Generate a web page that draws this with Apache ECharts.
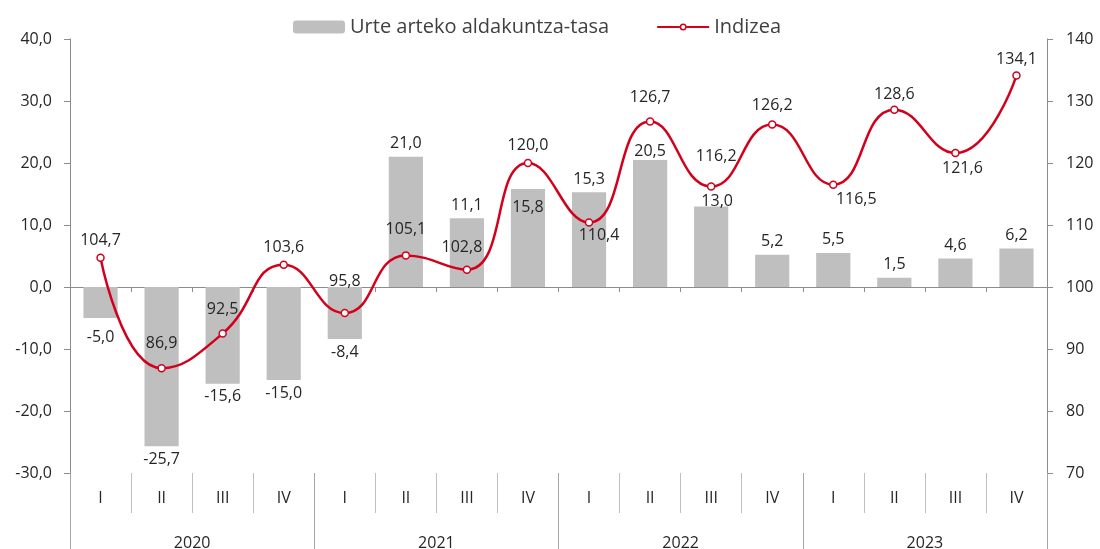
<!DOCTYPE html>
<html>
<head>
<meta charset="utf-8">
<script src="https://cdn.jsdelivr.net/npm/echarts@6/dist/echarts.min.js"></script>
<style>
  html, body { margin: 0; padding: 0; background: #fff; }
  #main { width: 1100px; height: 549px; }
</style>
</head>
<body>
<div id="main"></div>
<script>
// datuak
const quarters = ['I', 'II', 'III', 'IV', 'I', 'II', 'III', 'IV', 'I', 'II', 'III', 'IV', 'I', 'II', 'III', 'IV']
const years = ['2020', '2021', '2022', '2023']
const tasa = [-5.0, -25.7, -15.6, -15.0, -8.4, 21.0, 11.1, 15.8, 15.3, 20.5, 13.0, 5.2, 5.5, 1.5, 4.6, 6.2]
const indizea = [104.7, 86.9, 92.5, 103.6, 95.8, 105.1, 102.8, 120.0, 110.4, 126.7, 116.2, 126.2, 116.5, 128.6, 121.6, 134.1]

const fontFamily = '"Open Sans", "Noto Sans", sans-serif'
const textColor = '#262626'
const red = '#d3001c'

function comma (v, d) {
  return v.toFixed(d).replace('.', ',')
}

// etiketen kokapen bereziak (jatorrizko grafikoan eskuz mugituak)
const barLabelTweak = {
  0: { distance: 11 },
  7: { position: 'insideTop', distance: 10 },
  9: { distance: 0 },
  10: { distance: -3, offset: [6, 0] }
}
const lineLabelTweak = {
  1: { distance: 13 },
  2: { distance: 12 },
  4: { distance: 19 },
  5: { distance: 14 },
  6: { distance: 10, offset: [-5, 0] },
  8: { position: 'bottom', distance: 1, offset: [10, 0] },
  9: { distance: 12 },
  10: { distance: 18, offset: [5, 0] },
  11: { distance: 7 },
  12: { position: 'bottom', distance: 2, offset: [23, 0] },
  13: { distance: 3 },
  14: { position: 'bottom', distance: 3, offset: [7, 0] },
  15: { distance: 4 }
}

const barData = tasa.map(function (v, i) {
  const label = Object.assign({ position: v < 0 ? 'bottom' : 'top' }, barLabelTweak[i] || {})
  return { value: v, label: label }
})
const lineData = indizea.map(function (v, i) {
  return { value: v, label: Object.assign({ position: 'top' }, lineLabelTweak[i] || {}) }
})

// legendako lerroa + zirkulu txikia (52x13)
const lineIcon = 'path://M0,0 L0.01,0 M52,13 L51.99,13 ' +
  'M0,5.5 H22.5 V7.5 H0 Z M29.5,5.5 H52 V7.5 H29.5 Z ' +
  'M26,3 A3.5,3.5 0 1,1 25.99,3 Z M26,4.5 A2,2 0 1,0 26.01,4.5 Z'

var myChart = echarts.init(document.getElementById('main'))

var option = {
  animation: false,
  textStyle: { fontFamily: fontFamily, color: textColor },
  legend: {
    left: 293,
    top: 17,
    padding: 0,
    itemWidth: 52,
    itemHeight: 13,
    itemGap: 48,
    textStyle: { fontSize: 20, color: '#404040', fontFamily: fontFamily },
    data: [
      { name: 'Urte arteko aldakuntza-tasa' },
      { name: 'Indizea', icon: lineIcon, itemStyle: { color: red, borderWidth: 0 } }
    ]
  },
  grid: {
    left: 70,
    right: 53,
    top: 39,
    bottom: 76,
    outerBoundsMode: 'none'
  },
  xAxis: [
    {
      type: 'category',
      data: quarters,
      axisLine: { onZero: true, onZeroAxisIndex: 0, lineStyle: { color: '#8c8c8c', width: 1 } },
      axisTick: { show: true, length: 5, lineStyle: { color: '#8c8c8c' } },
      axisLabel: { show: false },
      splitLine: { show: false }
    },
    {
      type: 'category',
      data: quarters,
      position: 'bottom',
      axisLine: { show: false, onZero: false },
      axisTick: { show: true, length: 40, lineStyle: { color: '#bfbfbf' } },
      axisLabel: { margin: 17, fontSize: 16, color: textColor, fontFamily: fontFamily },
      splitLine: { show: false }
    },
    {
      type: 'category',
      data: years,
      position: 'bottom',
      axisLine: { show: false, onZero: false },
      axisTick: { show: true, length: 76, lineStyle: { color: '#a6a6a6' } },
      axisLabel: { margin: 62, fontSize: 16, color: textColor, fontFamily: fontFamily },
      splitLine: { show: false }
    }
  ],
  yAxis: [
    {
      type: 'value',
      min: -30,
      max: 40,
      interval: 10,
      position: 'left',
      axisLine: { show: true, lineStyle: { color: '#8c8c8c' } },
      axisTick: { show: true, length: 6, lineStyle: { color: '#8c8c8c' } },
      axisLabel: {
        margin: 18,
        fontSize: 16,
        color: textColor,
        fontFamily: fontFamily,
        formatter: function (v) { return comma(v, 1) }
      },
      splitLine: { show: false }
    },
    {
      type: 'value',
      min: 70,
      max: 140,
      interval: 10,
      position: 'right',
      axisLine: { show: true, lineStyle: { color: '#8c8c8c' } },
      axisTick: { show: true, length: 6, lineStyle: { color: '#8c8c8c' } },
      axisLabel: { margin: 19, fontSize: 16, color: textColor, fontFamily: fontFamily },
      splitLine: { show: false }
    }
  ],
  series: [
    {
      name: 'Urte arteko aldakuntza-tasa',
      type: 'bar',
      xAxisIndex: 0,
      yAxisIndex: 0,
      barCategoryGap: '44%',
      itemStyle: { color: '#bfbfbf' },
      label: {
        show: true,
        fontSize: 16,
        color: textColor,
        fontFamily: fontFamily,
        formatter: function (p) { return comma(p.value, 1) }
      },
      data: barData
    },
    {
      name: 'Indizea',
      type: 'line',
      xAxisIndex: 0,
      yAxisIndex: 1,
      smooth: 0.5,
      symbol: 'circle',
      symbolSize: 7,
      z: 5,
      lineStyle: { color: red, width: 2.5 },
      itemStyle: { color: '#fff', borderColor: red, borderWidth: 1.5 },
      label: {
        show: true,
        fontSize: 16,
        color: textColor,
        fontFamily: fontFamily,
        formatter: function (p) { return comma(p.value, 1) }
      },
      data: lineData
    }
  ]
}

myChart.setOption(option)
</script>
</body>
</html>
